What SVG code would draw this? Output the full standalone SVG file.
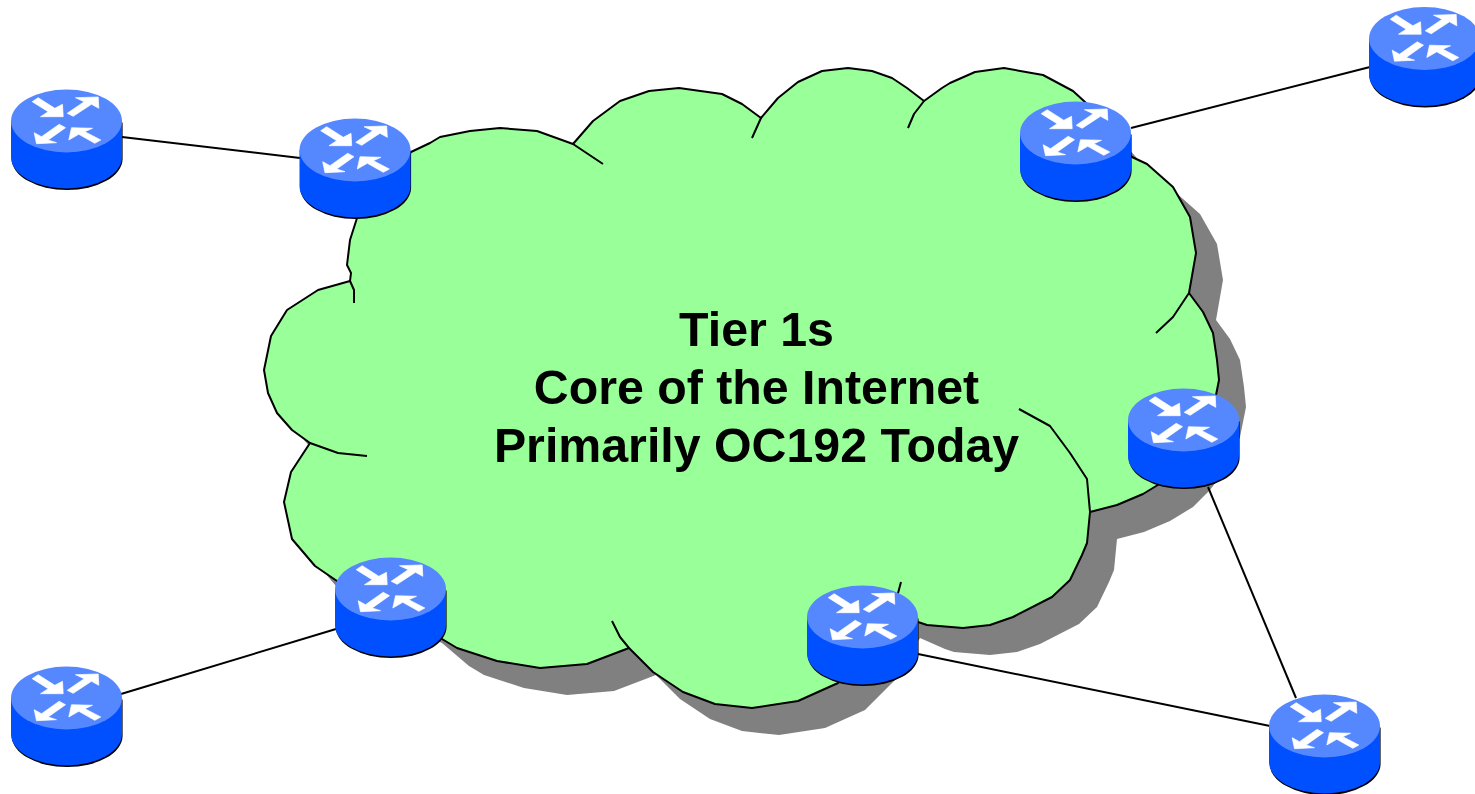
<svg xmlns="http://www.w3.org/2000/svg" xmlns:xlink="http://www.w3.org/1999/xlink" width="1475" height="794" viewBox="0 0 1475 794">
<style>
.link{stroke:#000;stroke-width:2;fill:none}
.fold{stroke:#000;stroke-width:2;fill:none;stroke-linejoin:round}
.cloud{fill:#99ff99;stroke:#000;stroke-width:2;stroke-linejoin:round}
.shadow{fill:#808080}
.edge{fill:#000}
.body{fill:#0050ff}
.top{fill:#5588ff}
.arrow{fill:#fff;stroke:#fff;stroke-width:.7}
text{font-family:"Liberation Sans",Arial,sans-serif;font-weight:bold;font-size:48.3px;fill:#000;text-anchor:middle}
</style>
<defs>
<path id="outline" d="M357 218L350 240L347 265L351 273L350 281L318 290L287 310L271 336L264 370L268 393L277 413L292 430L310 443L291 472L284 502L292 539L315 566L337 581L415 616L442 639L457 648L497 661L540 668L587 664L629 648L653 672L683 692L715 704L752 708L798 701L838 683L870 651L893 611L918 622L927 625L963 628L990 625L1013 617L1052 597L1070 580L1082 555L1087 543L1090 512L1117 505L1143 494L1166 480L1183 463L1200 440L1213 410L1219 380L1217 360L1213 333L1203 312L1189 293L1196 253L1190 217L1173 187L1147 164L1132 157L1085 102L1073 91L1043 75L1004 68L975 72L950 83L942 88L924 101L907 88L892 78L872 71L848 68L822 71L798 82L778 98L761 118L742 104L722 94L679 88L649 91L620 101L593 121L573 144L537 131L500 128L470 131L440 137L430 143L411 152Z"/>
<g id="router">
<path class="edge" d="M-55.5 0V36A55.5 31.5 0 0 0 55.5 36V0Z" transform="translate(0.6,1.6)"/>
<path class="body" d="M-55.5 0V36A55.5 31.5 0 0 0 55.5 36V0Z"/>
<ellipse class="top" rx="55.5" ry="31.5"/>
<polygon class="arrow" points="-34.3,-19.3 -28.3,-23.3 -11.7,-12.7 -4,-16.7 -3.3,-4.3 -26,-4.3 -18.3,-9.3"/>
<polygon class="arrow" points="9,-23.3 31.7,-24 32.3,-12.7 25,-16.7 6.7,-4.7 0.7,-7.7 17.7,-19.3"/>
<polygon class="arrow" points="-32.3,11.7 -30,22.7 -10,21.7 -18.3,19 -1,6.7 -7.3,3.3 -25,15.7"/>
<polygon class="arrow" points="2.3,19 5,6.7 26,7.3 18.3,10.7 34.3,19 28.3,22.3 12.3,13.3"/>
</g>
</defs>
<g id="cloud">
<polygon class="shadow" points="327,575 340,580 340,590"/>
<use xlink:href="#outline" href="#outline" class="shadow" transform="translate(27,27)"/>
<use xlink:href="#outline" href="#outline" class="cloud"/>
<path class="fold" d="M573 144L603 164M761 118L752 138M924 101L914 114L908 128M1189 293L1173 317L1156 333M1019 409L1050 426L1070 453L1087 479L1090 512M901 582L897 597M629 648L620 637L612 621M310 443L338 453L367 456M350 281L354 290L354 303"/>
<text x="756.500" y="346">Tier 1s</text>
<text x="756.500" y="404">Core of the Internet</text>
<text x="756.500" y="462">Primarily OC192 Today</text>
</g>
<g id="connectors">
<line class="link" x1="122" y1="137" x2="300" y2="158"/>
<line class="link" x1="1131" y1="128" x2="1370" y2="67"/>
<line class="link" x1="336" y1="629" x2="121" y2="694"/>
<line class="link" x1="918" y1="654" x2="1270" y2="726"/>
<line class="link" x1="1208" y1="487" x2="1296" y2="698"/>
</g>
<g id="router-1"><use xlink:href="#router" href="#router" x="66.500" y="121"/></g>
<g id="router-2"><use xlink:href="#router" href="#router" x="355" y="150"/></g>
<g id="router-3"><use xlink:href="#router" href="#router" x="1075.500" y="133"/></g>
<g id="router-4"><use xlink:href="#router" href="#router" x="1424.500" y="38.500"/></g>
<g id="router-5"><use xlink:href="#router" href="#router" x="1183.500" y="420"/></g>
<g id="router-6"><use xlink:href="#router" href="#router" x="862.500" y="617"/></g>
<g id="router-7"><use xlink:href="#router" href="#router" x="390.500" y="589"/></g>
<g id="router-8"><use xlink:href="#router" href="#router" x="66.500" y="698"/></g>
<g id="router-9"><use xlink:href="#router" href="#router" x="1324.500" y="726"/></g>
</svg>
